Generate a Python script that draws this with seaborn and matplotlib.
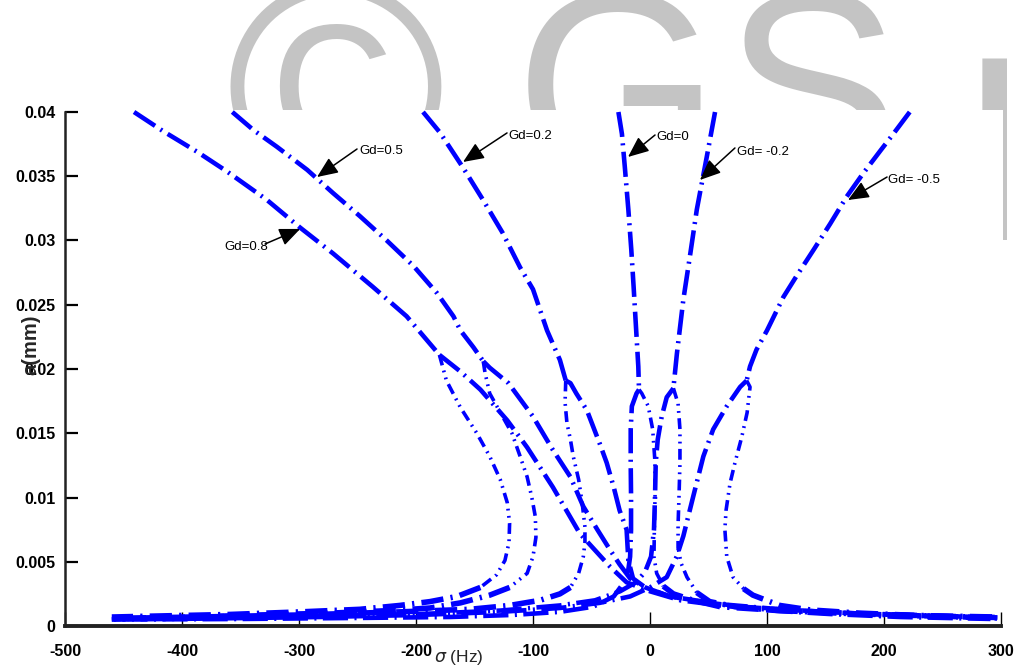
import matplotlib
matplotlib.use("Agg")
import matplotlib.pyplot as plt
import seaborn as sns
import pandas as pd
from matplotlib.patches import Rectangle

# ---------------- data (sigma in Hz, a in mm) ----------------
# Gd = 0.8
g08_backbone_sigma = [-441, -416, -387, -362, -328, -299, -271, -237, -208, -180]
g08_backbone_a = [0.0400, 0.0385, 0.0369, 0.0354, 0.0332, 0.0310, 0.0290, 0.0264, 0.0241, 0.0211]
g08_upper_sigma = [-180, -162, -145, -122, -105, -83, -60, -34, -20, 0, 26, 60, 103, 154, 214, 291]
g08_upper_a = [0.0211, 0.0198, 0.0184, 0.0160, 0.0139, 0.0108, 0.0072, 0.0046, 0.0034, 0.0027, 0.0020, 0.0016, 0.0012, 0.00093, 0.0007, 0.00055]
g08_middle_sigma = [-180, -174, -162, -148, -137, -128, -122, -120, -120.5, -124, -131, -145]
g08_middle_a = [0.0211, 0.0191, 0.0170, 0.0150, 0.0132, 0.0114, 0.0096, 0.0080, 0.0065, 0.0051, 0.0040, 0.0030]
g08_lower_sigma = [-145, -165, -188, -214, -248, -299, -359, -410, -460]
g08_lower_a = [0.0030, 0.0023, 0.0019, 0.0016, 0.0013, 0.0011, 0.0009, 0.0008, 0.0007]

# Gd = 0.5
g05_backbone_sigma = [-357, -339, -319, -293, -271, -248, -225, -202, -182, -168, -162, -151, -142.5]
g05_backbone_a = [0.0400, 0.0386, 0.0373, 0.0355, 0.0337, 0.0319, 0.0300, 0.0280, 0.0259, 0.0241, 0.0230, 0.0217, 0.0206]
g05_upper_sigma = [-142.5, -137, -121, -100, -83, -68, -57, -45, -34, -26, -17, -4, 17, 60, 111, 171, 239, 295]
g05_upper_a = [0.0206, 0.0201, 0.0189, 0.0163, 0.0137, 0.0116, 0.0093, 0.0075, 0.0059, 0.0048, 0.0037, 0.0030, 0.0023, 0.0017, 0.0013, 0.0010, 0.00078, 0.00062]
g05_middle_sigma = [-142.5, -141, -137, -126, -118, -111, -105, -101, -98, -97.5, -100, -105, -120]
g05_middle_a = [0.0206, 0.0197, 0.0181, 0.0163, 0.0150, 0.0132, 0.0116, 0.0100, 0.0085, 0.0069, 0.0054, 0.0041, 0.0030]
g05_lower_sigma = [-120, -137, -162, -188, -222, -274, -333, -393, -457]
g05_lower_a = [0.0030, 0.0024, 0.0018, 0.0014, 0.0012, 0.0010, 0.00086, 0.0007, 0.00058]

# Gd = 0.2
g02_backbone_sigma = [-194, -179.5, -160, -143, -126, -111, -100, -88, -77, -72]
g02_backbone_a = [0.0400, 0.0384, 0.0357, 0.0332, 0.0306, 0.0279, 0.0262, 0.0230, 0.0207, 0.0191]
g02_upper_sigma = [-72, -68, -63, -54, -48.5, -43, -37, -31, -26, -20, -18.5, -14.5, -4, 17, 43, 77, 128, 188, 248, 297]
g02_upper_a = [0.0191, 0.0189, 0.0181, 0.0168, 0.0155, 0.0142, 0.0127, 0.0108, 0.0090, 0.0075, 0.0051, 0.0037, 0.0030, 0.0023, 0.0019, 0.0015, 0.0012, 0.00093, 0.00078, 0.00066]
g02_middle_sigma = [-72, -72.6, -71, -68, -65.6, -61, -58, -55.6, -55.6, -57, -61, -68]
g02_middle_a = [0.0191, 0.0174, 0.0158, 0.0145, 0.0132, 0.0114, 0.0096, 0.0077, 0.0065, 0.0054, 0.0041, 0.0030]
g02_lower_sigma = [-68, -77, -94, -120, -154, -214, -299, -385, -460]
g02_lower_a = [0.0030, 0.0025, 0.0020, 0.0016, 0.0013, 0.0011, 0.00086, 0.0007, 0.0006]

# Gd = 0
g00_backbone_sigma = [-27, -24, -21.5, -18.5, -16, -14, -12, -10, -9.4]
g00_backbone_a = [0.0400, 0.0383, 0.0357, 0.0324, 0.0293, 0.0264, 0.0233, 0.0202, 0.0184]
g00_upper_sigma = [-9.4, -11.5, -15.5, -16.5, -16.5, -16.2, -16.2, -17, -18.5, -23, -31, -48.5, -77, -117, -171, -256, -359, -460]
g00_upper_a = [0.0184, 0.0181, 0.0171, 0.0153, 0.0127, 0.0101, 0.0075, 0.0054, 0.0044, 0.0033, 0.0023, 0.0015, 0.0011, 0.00086, 0.0007, 0.00062, 0.00054, 0.0005]
g00_middle_sigma = [-9.4, -7, -1.5, 2.3, 4.3, 4.3, 3.7, 3.4, 5.7, 11.4]
g00_middle_a = [0.0184, 0.0181, 0.0171, 0.0153, 0.0127, 0.0101, 0.0075, 0.0054, 0.0041, 0.0031]
g00_lower_sigma = [11.4, 20, 37, 60, 111, 180, 248, 297]
g00_lower_a = [0.0031, 0.0025, 0.0020, 0.0015, 0.0012, 0.00093, 0.00078, 0.0007]

# Gd = -0.2
gm02_backbone_sigma = [55.6, 48.5, 40, 34, 28.5, 23, 20]
gm02_backbone_a = [0.0400, 0.0365, 0.0324, 0.0287, 0.0254, 0.0212, 0.0185]
gm02_upper_sigma = [20, 14.3, 10, 6.6, 4.9, 4.3, 3.4, 0.9, -4.3, -12, -25.6, -47, -77, -128, -197, -282, -376, -460]
gm02_upper_a = [0.0185, 0.0178, 0.0163, 0.0145, 0.0127, 0.0101, 0.0075, 0.0054, 0.0042, 0.0034, 0.0027, 0.0020, 0.0016, 0.0012, 0.00093, 0.00078, 0.00062, 0.00054]
gm02_middle_sigma = [20, 24, 25.6, 25.6, 24.8, 24, 24, 26.5, 31.6, 40]
gm02_middle_a = [0.0185, 0.0173, 0.0153, 0.0127, 0.0101, 0.0079, 0.0061, 0.0049, 0.0038, 0.0026]
gm02_lower_sigma = [40, 51, 73, 120, 180, 248, 297]
gm02_lower_a = [0.0026, 0.0019, 0.0015, 0.0012, 0.00093, 0.00074, 0.00062]

# Gd = -0.5
gm05_backbone_sigma = [222, 208, 197, 182, 168, 154, 140, 125, 114, 100, 91, 85.5, 82.6]
gm05_backbone_a = [0.0400, 0.0383, 0.0370, 0.0352, 0.0334, 0.0313, 0.0293, 0.0272, 0.0256, 0.0230, 0.0215, 0.0202, 0.0191]
gm05_upper_sigma = [82.6, 77, 65.6, 54, 45.6, 37, 28.5, 22.8, 14.3, 0, -17, -43, -77, -128, -197, -282, -376, -460]
gm05_upper_a = [0.0191, 0.0186, 0.0171, 0.0153, 0.0132, 0.0101, 0.0070, 0.0054, 0.0038, 0.0030, 0.0023, 0.0018, 0.0014, 0.0011, 0.00086, 0.0007, 0.00058, 0.0005]
gm05_middle_sigma = [82.6, 85.5, 83, 78.4, 72.6, 68.4, 65, 64, 65.6, 71, 80]
gm05_middle_a = [0.0191, 0.0186, 0.0166, 0.0147, 0.0127, 0.0111, 0.0090, 0.0075, 0.0054, 0.0038, 0.0029]
gm05_lower_sigma = [80, 88, 111, 137, 180, 239, 297]
gm05_lower_a = [0.0029, 0.0024, 0.0016, 0.00125, 0.0010, 0.00078, 0.00066]

# annotations: label, arrow tip (sigma, a), arrow tail (sigma, a), text centre (sigma, a)
gd_labels = ["Gd=0.8", "Gd=0.5", "Gd=0.2", "Gd=0", "Gd= -0.2", "Gd= -0.5"]
tip_sigma = [-299, -284.6, -159.8, -18.8, 42.7, 169.2]
tip_a = [0.0309, 0.03494, 0.03611, 0.0365, 0.03471, 0.03315]
tail_sigma = [-329, -250.4, -122.2, 4.3, 72.6, 202.6]
tail_a = [0.02973, 0.03712, 0.03837, 0.03821, 0.0372, 0.03494]
text_sigma = [-345.3, -229.9, -102.6, 19.7, 96.6, 225.6]
text_a = [0.02949, 0.03696, 0.03813, 0.03805, 0.03689, 0.03471]

x_ticks = [-500, -400, -300, -200, -100, 0, 100, 200, 300]
y_ticks = [0, 0.005, 0.01, 0.015, 0.02, 0.025, 0.03, 0.035, 0.04]
y_ticklabels = ["0", "0.005", "0.01", "0.015", "0.02", "0.025", "0.03", "0.035", "0.04"]

# ---------------- figure ----------------
sns.set_theme(style="white")
FAM = ["Liberation Sans", "DejaVu Sans"]
plt.rcParams["font.family"] = FAM

W, H = 1014, 671
fig = plt.figure(figsize=(W / 100, H / 100), dpi=100)

# watermark behind the chart (only its upper part shows)
wm = "#c4c4c4"
for ch, xl, fs, base in [("\u00a9", 226, 215, 190), ("G", 515, 190, 176),
                         ("S", 724, 190, 176), ("I", 958, 190, 240)]:
    fig.text(xl / W, 1 - base / H, ch, fontsize=fs, color=wm, ha="left",
             va="baseline", family=FAM, zorder=-3)
fig.patches.append(Rectangle((0, 0), 1003 / W, (H - 110) / H, transform=fig.transFigure,
                             facecolor="white", edgecolor="none", zorder=-2))

ax = fig.add_axes([65 / W, 45 / H, 936 / W, 514 / H])
ax.set_facecolor("none")

BLUE = (0, 0, 1)
stable_style = dict(lw=3.3, linestyle=(0, (5.5, 1.4, 0.45, 1.4)))
tail_style = dict(lw=4.0, linestyle=(0, (4.0, 1.3, 0.4, 1.3)))
middle_style = dict(lw=2.6, linestyle=(0, (3.0, 1.5, 0.5, 1.5, 0.5, 1.5)))

segments = [
    (g08_backbone_sigma, g08_backbone_a, stable_style), (g08_upper_sigma, g08_upper_a, stable_style),
    (g08_middle_sigma, g08_middle_a, middle_style), (g08_lower_sigma, g08_lower_a, tail_style),
    (g05_backbone_sigma, g05_backbone_a, stable_style), (g05_upper_sigma, g05_upper_a, stable_style),
    (g05_middle_sigma, g05_middle_a, middle_style), (g05_lower_sigma, g05_lower_a, tail_style),
    (g02_backbone_sigma, g02_backbone_a, stable_style), (g02_upper_sigma, g02_upper_a, stable_style),
    (g02_middle_sigma, g02_middle_a, middle_style), (g02_lower_sigma, g02_lower_a, tail_style),
    (g00_backbone_sigma, g00_backbone_a, stable_style), (g00_upper_sigma, g00_upper_a, stable_style),
    (g00_middle_sigma, g00_middle_a, middle_style), (g00_lower_sigma, g00_lower_a, tail_style),
    (gm02_backbone_sigma, gm02_backbone_a, stable_style), (gm02_upper_sigma, gm02_upper_a, stable_style),
    (gm02_middle_sigma, gm02_middle_a, middle_style), (gm02_lower_sigma, gm02_lower_a, tail_style),
    (gm05_backbone_sigma, gm05_backbone_a, stable_style), (gm05_upper_sigma, gm05_upper_a, stable_style),
    (gm05_middle_sigma, gm05_middle_a, middle_style), (gm05_lower_sigma, gm05_lower_a, tail_style),
]
for s, a, st in segments:
    df = pd.DataFrame({"sigma": s, "a": a})
    sns.lineplot(data=df, x="sigma", y="a", sort=False, estimator=None, ax=ax,
                 color=BLUE, clip_on=False, **st)

for lab, ts, ta, qs, qa, xs, xa in zip(gd_labels, tip_sigma, tip_a, tail_sigma, tail_a,
                                        text_sigma, text_a):
    ax.annotate("", xy=(ts, ta), xytext=(qs, qa),
                arrowprops=dict(arrowstyle="-|>,head_length=0.75,head_width=0.32",
                                color="black", lw=1.1, mutation_scale=17,
                                shrinkA=0, shrinkB=0))
    ax.text(xs, xa, lab, ha="center", va="center", fontsize=9.5, color="black")

ax.set_xlim(-500, 300)
ax.set_ylim(0, 0.04)
ax.set_xticks(x_ticks)
ax.set_xticklabels([str(v) for v in x_ticks])
ax.set_yticks(y_ticks)
ax.set_yticklabels(y_ticklabels)
for lab in ax.get_xticklabels() + ax.get_yticklabels():
    lab.set_fontweight("bold")
    lab.set_fontsize(11.5)
ax.tick_params(axis="x", direction="in", length=10, width=1.0, pad=13, colors="black")
ax.tick_params(axis="y", direction="in", length=9, width=1.6, pad=7, colors="black")
ax.tick_params(bottom=True, left=True)

sns.despine(ax=ax)
ax.spines["left"].set_linewidth(1.8)
ax.spines["left"].set_color("#222222")
ax.spines["bottom"].set_linewidth(2.8)
ax.spines["bottom"].set_color("#222222")

ax.set_ylabel("a(mm)", fontsize=14.5, fontweight="bold")
ax.yaxis.set_label_coords(-0.026, 0.547)
ax.set_xlabel(r"$\sigma$ (Hz)", fontsize=12.5)
ax.xaxis.set_label_coords(0.421, -0.043)

fig.savefig("out.png", dpi=100)
